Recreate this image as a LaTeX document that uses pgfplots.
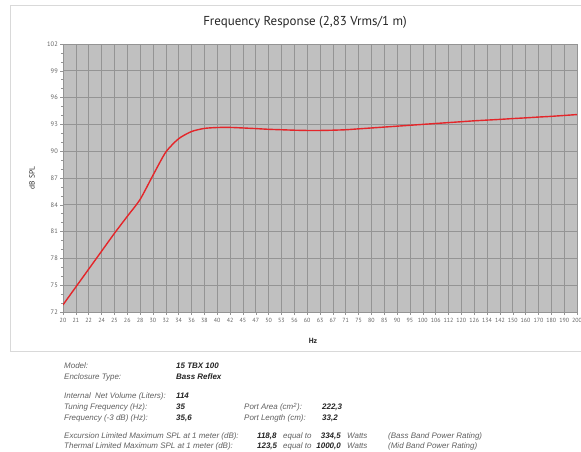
\documentclass[border=0pt]{standalone}
\usepackage{fontspec}
\setmainfont{Liberation Sans}
\newfontfamily\dinfont{PT Sans}
\usepackage{pgfplots}
\pgfplotsset{compat=1.18}
\definecolor{bgray}{RGB}{192,192,192}
\definecolor{ggray}{RGB}{148,148,148}
\definecolor{curve}{RGB}{228,38,42}
\definecolor{lbl}{RGB}{95,95,95}
\definecolor{val}{RGB}{35,35,35}
\begin{document}
\begin{tikzpicture}[x=1bp,y=1bp]
\useasboundingbox (0,0) rectangle (581,452);
\draw[gray!30, line width=1bp] (10,100) rectangle (581.5,446);
\begin{axis}[at={(63bp,140bp)}, anchor=south west, scale only axis,
  width=514bp, height=268bp,
  xmin=0, xmax=40, ymin=72, ymax=102,
  xtick={0,...,40},
  xticklabels={20,21,22,24,25,26,28,30,32,34,36,38,40,42,45,47,50,53,56,60,63,67,71,75,80,85,90,95,100,106,112,120,126,134,142,150,160,170,180,190,200},
  ytick={72,75,...,102}, minor y tick num=2,
  xtick pos=left, ytick pos=left,
  axis background/.style={fill=bgray},
  grid=major, major grid style={draw=ggray, line width=0.6bp},
  axis line style={draw=ggray, line width=0.6bp},
  tick align=outside, major tick length=3bp, minor tick length=2bp,
  every tick/.style={ggray, line width=0.5bp},
  /pgf/number format/assume math mode=true,
  ticklabel style={text=black!62},
  xticklabel style={font=\dinfont\fontsize{6}{7}\selectfont, inner sep=1bp, yshift=-2.5bp},
  yticklabel style={font=\dinfont\fontsize{6.5}{7}\selectfont, inner sep=1bp, xshift=-1bp},
]
\addplot[curve, line width=1.4bp, smooth, tension=0.4] coordinates {
(0,72.8) (1,74.8) (2,76.8) (3,78.8) (4,80.8) (5,82.7) (6,84.6) (7,87.3)
(8,89.9) (9,91.4) (10,92.2) (11,92.55) (12,92.65) (13,92.66) (14,92.6)
(15,92.53) (16,92.45) (17,92.4) (18,92.35) (19,92.32) (20,92.32) (21,92.35)
(22,92.4) (23,92.5) (24,92.6) (25,92.7) (26,92.8) (27,92.9) (28,93.0)
(29,93.1) (30,93.2) (31,93.3) (32,93.4) (33,93.48) (34,93.56) (35,93.65)
(36,93.73) (37,93.82) (38,93.9) (39,94.0) (40,94.1)
};
\end{axis}
\node[font=\dinfont\fontsize{13}{15}\selectfont, text=black!85] at (305,430) {Frequency Response (2,83 Vrms/1 m)};
\node[font=\dinfont\fontsize{7.5}{8}\selectfont, rotate=90, text=black!85] at (32,274) {dB SPL};
\node[font=\dinfont\bfseries\fontsize{7.5}{8}\selectfont, text=black!85] at (313,111) {Hz};
\begin{scope}[every node/.style={anchor=base west, inner sep=0pt, font=\fontsize{8}{9}\selectfont\itshape, text=lbl}]
\node at (64,83) {Model:};
\node at (64,72) {Enclosure Type:};
\node at (64,53) {Internal\ \ Net Volume (Liters):};
\node at (64,42) {Tuning Frequency (Hz):};
\node at (64,31) {Frequency (-3 dB) (Hz):};
\node at (64,13) {Excursion Limited Maximum SPL at 1 meter (dB):};
\node at (64,3) {Thermal Limited Maximum SPL at 1 meter (dB):};
\node at (244,42) {Port Area (cm\textsuperscript{2}):};
\node at (244,31) {Port Length (cm):};
\node at (283,13) {equal to};
\node at (283,3) {equal to};
\node at (347,13) {Watts};
\node at (347,3) {Watts};
\node at (388,13) {(Bass Band Power Rating)};
\node at (388,3) {(Mid Band Power Rating)};
\end{scope}
\begin{scope}[every node/.style={anchor=base west, inner sep=0pt, font=\fontsize{8}{9}\selectfont\bfseries\itshape, text=val}]
\node at (176,83) {15 TBX 100};
\node at (176,72) {Bass Reflex};
\node at (176,53) {114};
\node at (176,42) {35};
\node at (176,31) {35,6};
\node at (322,42) {222,3};
\node at (322,31) {33,2};
\node at (257,13) {118,8};
\node at (257,3) {123,5};
\node[anchor=base east] at (341,13) {334,5};
\node[anchor=base east] at (341,3) {1000,0};
\end{scope}
\end{tikzpicture}
\end{document}
